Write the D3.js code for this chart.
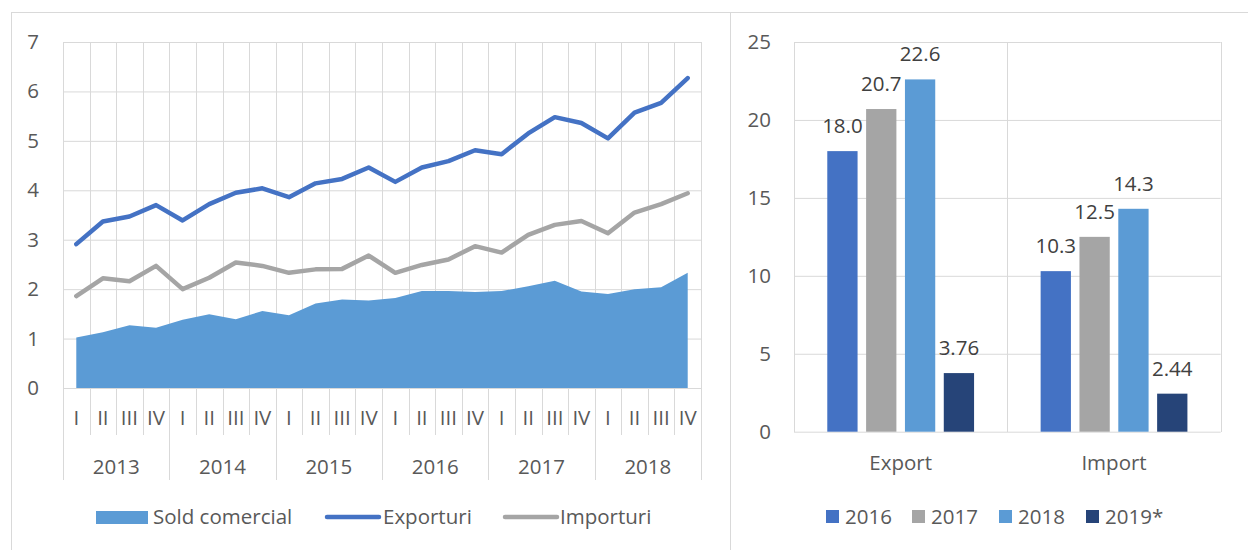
<!DOCTYPE html>
<html>
<head>
<meta charset="utf-8">
<script src="https://cdn.jsdelivr.net/npm/d3@7"></script>
<style>
  body { margin: 0; background: #fff; }
  svg text { font-family: "Open Sans", sans-serif; fill: #595959; font-size: 20.5px; }
  .grid line { stroke: #d9d9d9; stroke-width: 1; }
  .grid .domain { display: none; }
</style>
</head>
<body>
<div id="content"></div>
<script>
// left chart: quarterly values 2013-2018
var years = ["2013", "2014", "2015", "2016", "2017", "2018"];
var quarters = ["I", "II", "III", "IV"];
var exporturi = [2.91, 3.37, 3.47, 3.70, 3.39, 3.72, 3.95, 4.04, 3.86, 4.14, 4.23, 4.46,
                 4.17, 4.46, 4.59, 4.81, 4.73, 5.15, 5.48, 5.36, 5.05, 5.57, 5.77, 6.27];
var importuri = [1.86, 2.22, 2.16, 2.47, 2.00, 2.23, 2.54, 2.47, 2.33, 2.40, 2.41, 2.68,
                 2.33, 2.49, 2.60, 2.87, 2.74, 3.10, 3.30, 3.38, 3.13, 3.55, 3.72, 3.94];
var soldComercial = [1.02, 1.13, 1.27, 1.22, 1.38, 1.49, 1.39, 1.56, 1.47, 1.71, 1.79, 1.77,
                     1.82, 1.96, 1.96, 1.94, 1.96, 2.06, 2.17, 1.95, 1.90, 2.00, 2.04, 2.33];
var leftLegend = ["Sold comercial", "Exporturi", "Importuri"];

// right chart: annual totals
var groups = ["Export", "Import"];
var barYears = ["2016", "2017", "2018", "2019*"];
var exportVals = [18.0, 20.7, 22.6, 3.76];
var importVals = [10.3, 12.5, 14.3, 2.44];
var barLabels = [["18.0", "20.7", "22.6", "3.76"], ["10.3", "12.5", "14.3", "2.44"]];

var colors = {
  sold: "#5B9BD5", exp: "#4472C4", imp: "#A5A5A5",
  bars: ["#4472C4", "#A5A5A5", "#5B9BD5", "#264478"]
};

var svg = d3.select("#content").append("svg")
  .attr("width", 1248).attr("height", 550);

svg.append("rect").attr("width", 1248).attr("height", 550).attr("fill", "#fff");

// chart frames
svg.append("rect").attr("x", 11.5).attr("y", 12.5).attr("width", 719).attr("height", 600)
  .attr("fill", "none").attr("stroke", "#d9d9d9");
svg.append("rect").attr("x", 730.5).attr("y", 12.5).attr("width", 600).attr("height", 600)
  .attr("fill", "none").attr("stroke", "#d9d9d9");

// ---------- left chart ----------
var idx = d3.range(exporturi.length);
var x = d3.scaleBand().domain(idx).range([63, 701]);
var y = d3.scaleLinear().domain([0, 7]).range([388, 42]);

// horizontal grid + y labels
svg.append("g").attr("class", "grid")
  .attr("transform", "translate(63,0)")
  .call(d3.axisLeft(y).ticks(7).tickSize(-638).tickPadding(24))
  .selectAll("text").attr("fill", "#595959").style("font-size", "20.5px");

// vertical grid lines at category boundaries
var bounds = d3.range(exporturi.length + 1).map(function(i) { return 63 + i * x.step(); });
svg.append("g").selectAll("line").data(bounds).enter().append("line")
  .attr("x1", function(d) { return Math.round(d) + 0.5; })
  .attr("x2", function(d) { return Math.round(d) + 0.5; })
  .attr("y1", 42).attr("y2", function(d, i) { return i % 4 == 0 ? 480 : 435; })
  .attr("stroke", "#d9d9d9");

// area
var area = d3.area()
  .x(function(d, i) { return x(i) + x.bandwidth() / 2; })
  .y0(y(0))
  .y1(function(d) { return y(d); });
svg.append("path").datum(soldComercial).attr("d", area).attr("fill", colors.sold);

var line = d3.line()
  .x(function(d, i) { return x(i) + x.bandwidth() / 2; })
  .y(function(d) { return y(d); });

svg.append("path").datum(importuri).attr("d", line)
  .attr("fill", "none").attr("stroke", colors.imp).attr("stroke-width", 4.5)
  .attr("stroke-linejoin", "round").attr("stroke-linecap", "round");
svg.append("path").datum(exporturi).attr("d", line)
  .attr("fill", "none").attr("stroke", colors.exp).attr("stroke-width", 4.5)
  .attr("stroke-linejoin", "round").attr("stroke-linecap", "round");

// quarter labels
svg.append("g").selectAll("text").data(idx).enter().append("text")
  .attr("x", function(i) { return x(i) + x.bandwidth() / 2; })
  .attr("y", 425)
  .attr("text-anchor", "middle")
  .text(function(i) { return quarters[i % 4]; });

// year labels
svg.append("g").selectAll("text").data(years).enter().append("text")
  .attr("x", function(d, i) { return x(i * 4) + x.step() * 2; })
  .attr("y", 474)
  .attr("text-anchor", "middle")
  .text(function(d) { return d; });

// left legend
var lg = svg.append("g");
lg.append("rect").attr("x", 96).attr("y", 511).attr("width", 52).attr("height", 13).attr("fill", colors.sold);
lg.append("text").attr("x", 153).attr("y", 524).text(leftLegend[0]);
lg.append("line").attr("x1", 327).attr("x2", 379).attr("y1", 517).attr("y2", 517)
  .attr("stroke", colors.exp).attr("stroke-width", 4.5).attr("stroke-linecap", "round");
lg.append("text").attr("x", 383).attr("y", 524).text(leftLegend[1]);
lg.append("line").attr("x1", 505).attr("x2", 557).attr("y1", 517).attr("y2", 517)
  .attr("stroke", colors.imp).attr("stroke-width", 4.5).attr("stroke-linecap", "round");
lg.append("text").attr("x", 560).attr("y", 524).text(leftLegend[2]);

// ---------- right chart ----------
var y2 = d3.scaleLinear().domain([0, 25]).range([431.7, 42]);
var x0 = d3.scaleBand().domain(groups).range([794, 1220.7]);
var bw = x0.bandwidth();
var x1 = d3.scaleBand().domain(barYears).range([bw * 0.156, bw * 0.844]).paddingInner(0.22);

svg.append("g").attr("class", "grid")
  .attr("transform", "translate(794,0)")
  .call(d3.axisLeft(y2).ticks(5).tickSize(-426.7).tickPadding(23))
  .selectAll("text").attr("fill", "#595959").style("font-size", "20.5px");

svg.append("g").selectAll("line").data([794, 1007.3, 1220.7]).enter().append("line")
  .attr("x1", function(d) { return Math.round(d) + 0.5; })
  .attr("x2", function(d) { return Math.round(d) + 0.5; })
  .attr("y1", 42).attr("y2", 432)
  .attr("stroke", "#d9d9d9");

var barData = [exportVals, importVals];
var gg = svg.selectAll(".grp").data(groups).enter().append("g")
  .attr("class", "grp")
  .attr("transform", function(d) { return "translate(" + x0(d) + ",0)"; });

gg.selectAll("rect").data(function(d, gi) { return barData[gi]; }).enter().append("rect")
  .attr("x", function(d, i) { return x1(barYears[i]); })
  .attr("width", x1.bandwidth())
  .attr("y", function(d) { return y2(d); })
  .attr("height", function(d) { return y2(0) - y2(d); })
  .attr("fill", function(d, i) { return colors.bars[i]; });

gg.selectAll("text.lbl").data(function(d, gi) {
    return barData[gi].map(function(v, i) { return {v: v, t: barLabels[gi][i], i: i}; });
  }).enter().append("text")
  .attr("class", "lbl")
  .attr("x", function(d) { return x1(barYears[d.i]) + x1.bandwidth() / 2; })
  .attr("y", function(d) { return y2(d.v) - 18; })
  .attr("text-anchor", "middle")
  .style("fill", "#404040")
  .text(function(d) { return d.t; });

svg.append("g").selectAll("text").data(groups).enter().append("text")
  .attr("x", function(d) { return x0(d) + bw / 2; })
  .attr("y", 470)
  .attr("text-anchor", "middle")
  .text(function(d) { return d; });

// right legend
var legX = [826, 912, 999, 1086];
var rl = svg.append("g").selectAll("g").data(barYears).enter().append("g");
rl.append("rect").attr("x", function(d, i) { return legX[i]; }).attr("y", 510)
  .attr("width", 13).attr("height", 13).attr("fill", function(d, i) { return colors.bars[i]; });
rl.append("text").attr("x", function(d, i) { return legX[i] + 19; }).attr("y", 524)
  .text(function(d) { return d; });
</script>
</body>
</html>
